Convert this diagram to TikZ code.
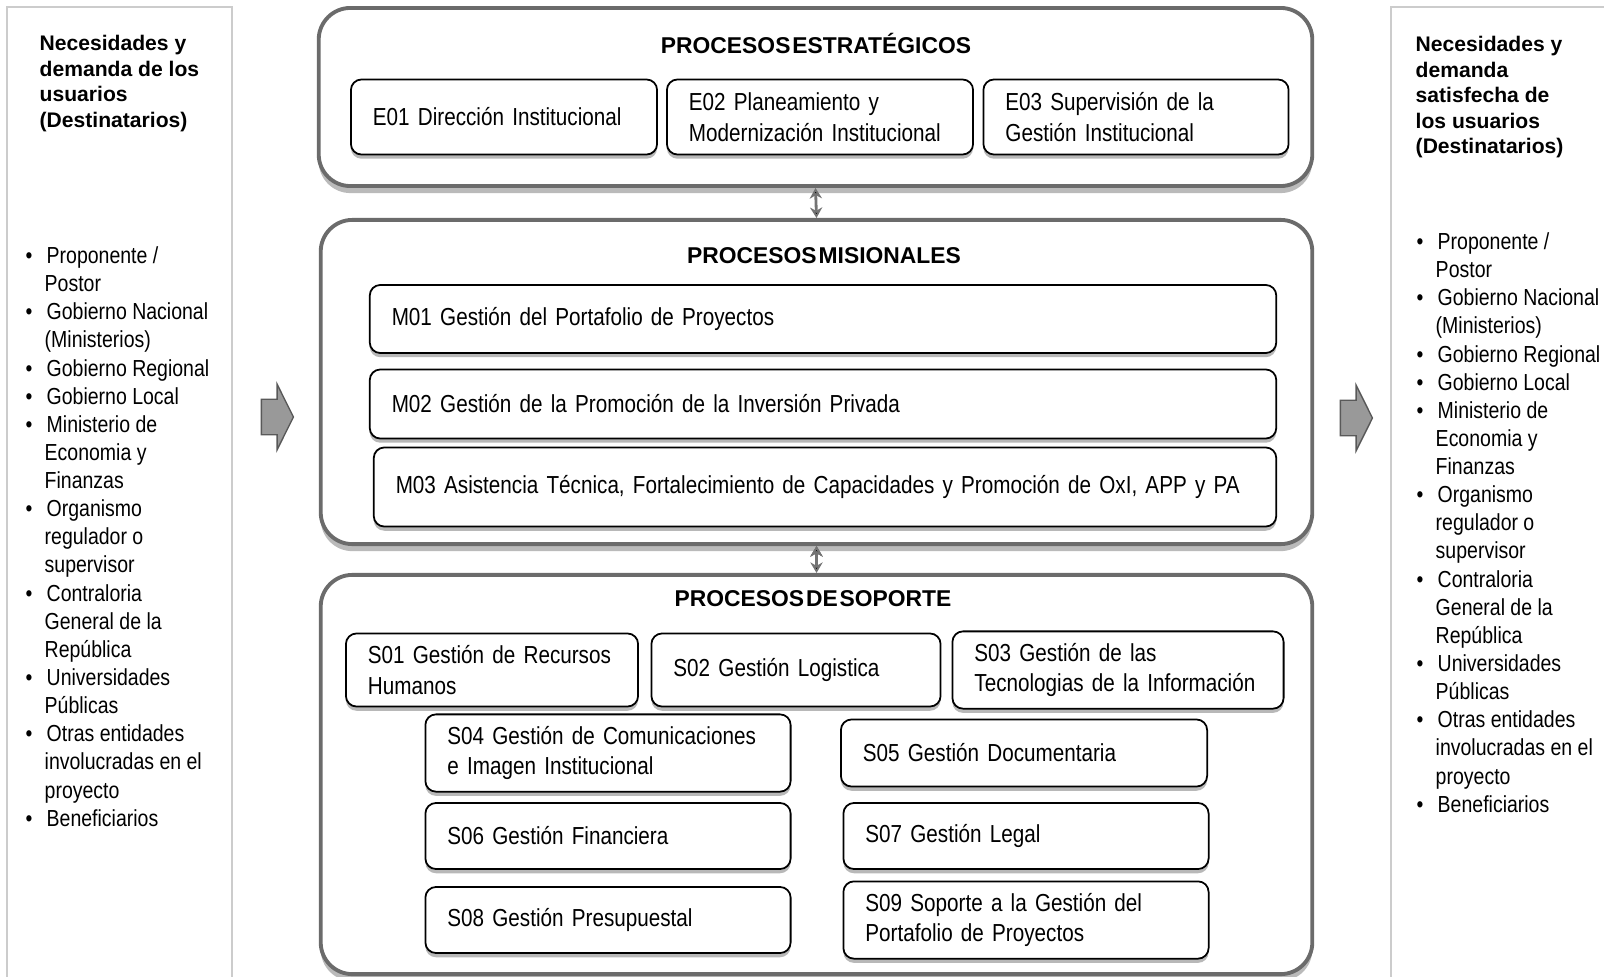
\documentclass[tikz,border=0pt]{standalone}
\usepackage{fontspec}
\setmainfont{Liberation Sans}
\newfontfamily\narrowfont[FakeStretch=0.84]{Liberation Sans}
\newfontfamily\titlefont[WordSpace=0.3]{Liberation Sans}
\usetikzlibrary{arrows.meta,positioning,shapes.arrows,shadows}
\definecolor{rim}{gray}{0.42}
\definecolor{panel}{gray}{0.80}
\definecolor{flecha}{gray}{0.60}
\newcommand{\bul}{\makebox[0.21cm][l]{\textbullet}}
\newcommand{\sig}{\hspace*{0.19cm}}

\tikzset{
  area/.style={draw=rim, line width=1.1pt, fill=white, rounded corners=9pt,
    drop shadow={shadow xshift=0pt, shadow yshift=-2pt, fill=black!45, opacity=0.6}},
  proc/.style={draw, line width=0.5pt, fill=white, rounded corners=3pt, align=left,
    inner xsep=0.22cm, font=\narrowfont\fontsize{7}{8.7}\selectfont,
    drop shadow={shadow xshift=0pt, shadow yshift=-1.2pt, fill=black!55}},
  titulo/.style={font=\titlefont\bfseries\fontsize{6.5}{7.5}\selectfont},
  lado/.style={draw=panel, line width=0.6pt},
  lista/.style={align=left, inner sep=0pt, anchor=north west,
    font=\narrowfont\fontsize{6.6}{8}\selectfont},
  cab/.style={align=left, inner sep=0pt, anchor=north west,
    font=\bfseries\fontsize{6}{7.25}\selectfont},
  bloque/.style={single arrow, draw=black!65, fill=flecha, minimum height=0.32cm,
    inner xsep=0pt, inner ysep=0.17cm, single arrow head extend=0.15cm,
    single arrow tip angle=127},
  doble/.style={<->, >={Stealth[length=3pt,width=3.5pt]}, draw=black!55, line width=0.8pt}
}

\begin{document}
\begin{tikzpicture}[x=0.01cm,y=-0.01cm]
\useasboundingbox (0,0) rectangle (1604,976);

% paneles laterales
\draw[lado] (7,7) rectangle (232,980);
\draw[lado] (1391,7) rectangle (1610,980);

\node[cab] (cabizq) at (39,35) {Necesidades y\\demanda de los\\usuarios\\(Destinatarios)};
\node[lista] (listaizq) at (25,246) {\bul Proponente /\\\sig Postor\\\bul Gobierno Nacional\\\sig (Ministerios)\\\bul Gobierno Regional\\\bul Gobierno Local\\\bul Ministerio de\\\sig Economia y\\\sig Finanzas\\\bul Organismo\\\sig regulador o\\\sig supervisor\\\bul Contraloria\\\sig General de la\\\sig República\\\bul Universidades\\\sig Públicas\\\bul Otras entidades\\\sig involucradas en el\\\sig proyecto\\\bul Beneficiarios};

\node[cab] (cabder) at (1415,36) {Necesidades y\\demanda\\satisfecha de\\los usuarios\\(Destinatarios)};
\node[lista] (listader) at (1416,232) {\bul Proponente /\\\sig Postor\\\bul Gobierno Nacional\\\sig (Ministerios)\\\bul Gobierno Regional\\\bul Gobierno Local\\\bul Ministerio de\\\sig Economia y\\\sig Finanzas\\\bul Organismo\\\sig regulador o\\\sig supervisor\\\bul Contraloria\\\sig General de la\\\sig República\\\bul Universidades\\\sig Públicas\\\bul Otras entidades\\\sig involucradas en el\\\sig proyecto\\\bul Beneficiarios};

\node[bloque] (ent) at (273,417) {};
\node[bloque] (sal) at (1352,418) {};

% procesos estrategicos
\node[area, minimum width=9.93cm, minimum height=1.78cm] (est) at (815.5,97) {};
\node[titulo] (test) at (816,43) {PROCESOS ESTRATÉGICOS};
\node[proc, text width=2.62cm, minimum height=0.75cm] (E01) at (504,117) {E01 Dirección Institucional};
\node[proc, text width=2.62cm, minimum height=0.75cm] (E02) at (820,117) {E02 Planeamiento y\\Modernización Institucional};
\node[proc, text width=2.61cm, minimum height=0.75cm] (E03) at (1136,117) {E03 Supervisión de la\\Gestión Institucional};

% procesos misionales
\node[area, minimum width=9.91cm, minimum height=3.24cm] (mis) at (816.5,382) {};
\node[titulo] (tmis) at (824,256) {PROCESOS MISIONALES};
\node[proc, text width=8.62cm, minimum height=0.68cm] (M01) at (823,319) {M01 Gestión del Portafolio de Proyectos};
\node[proc, text width=8.62cm, minimum height=0.69cm] (M02) at (823,404) {M02 Gestión de la Promoción de la Inversión Privada};
\node[proc, text width=8.58cm, minimum height=0.79cm] (M03) at (825,487) {M03 Asistencia Técnica, Fortalecimiento de Capacidades y Promoción de OxI, APP y PA};

% procesos de soporte
\node[area, minimum width=9.91cm, minimum height=3.99cm] (sop) at (816.5,774.5) {};
\node[titulo] (tsop) at (813,599) {PROCESOS DE SOPORTE};
\node[proc, text width=2.48cm, minimum height=0.73cm] (S01) at (492,670) {S01 Gestión de Recursos\\Humanos};
\node[proc, text width=2.45cm, minimum height=0.73cm] (S02) at (796,670) {S02 Gestión Logistica};
\node[proc, text width=2.87cm, minimum height=0.73cm] (S03) at (1118,670) {S03 Gestión de las\\Tecnologias de la Información};
\node[proc, text width=3.21cm, minimum height=0.67cm] (S04) at (608,753) {S04 Gestión de Comunicaciones\\e Imagen Institucional};
\node[proc, text width=3.22cm, minimum height=0.67cm] (S05) at (1024,753) {S05 Gestión Documentaria};
\node[proc, text width=3.21cm, minimum height=0.66cm] (S06) at (608,836) {S06 Gestión Financiera};
\node[proc, text width=3.21cm, minimum height=0.66cm] (S07) at (1026,836) {S07 Gestión Legal};
\node[proc, text width=3.21cm, minimum height=0.66cm] (S08) at (608,920) {S08 Gestión Presupuestal};
\node[proc, text width=3.21cm, minimum height=0.66cm] (S09) at (1026,920) {S09 Soporte a la Gestión del\\Portafolio de Proyectos};

\path[doble]
(est.south) edge (mis.north)
(mis.south) edge (sop.north);
\end{tikzpicture}
\end{document}
